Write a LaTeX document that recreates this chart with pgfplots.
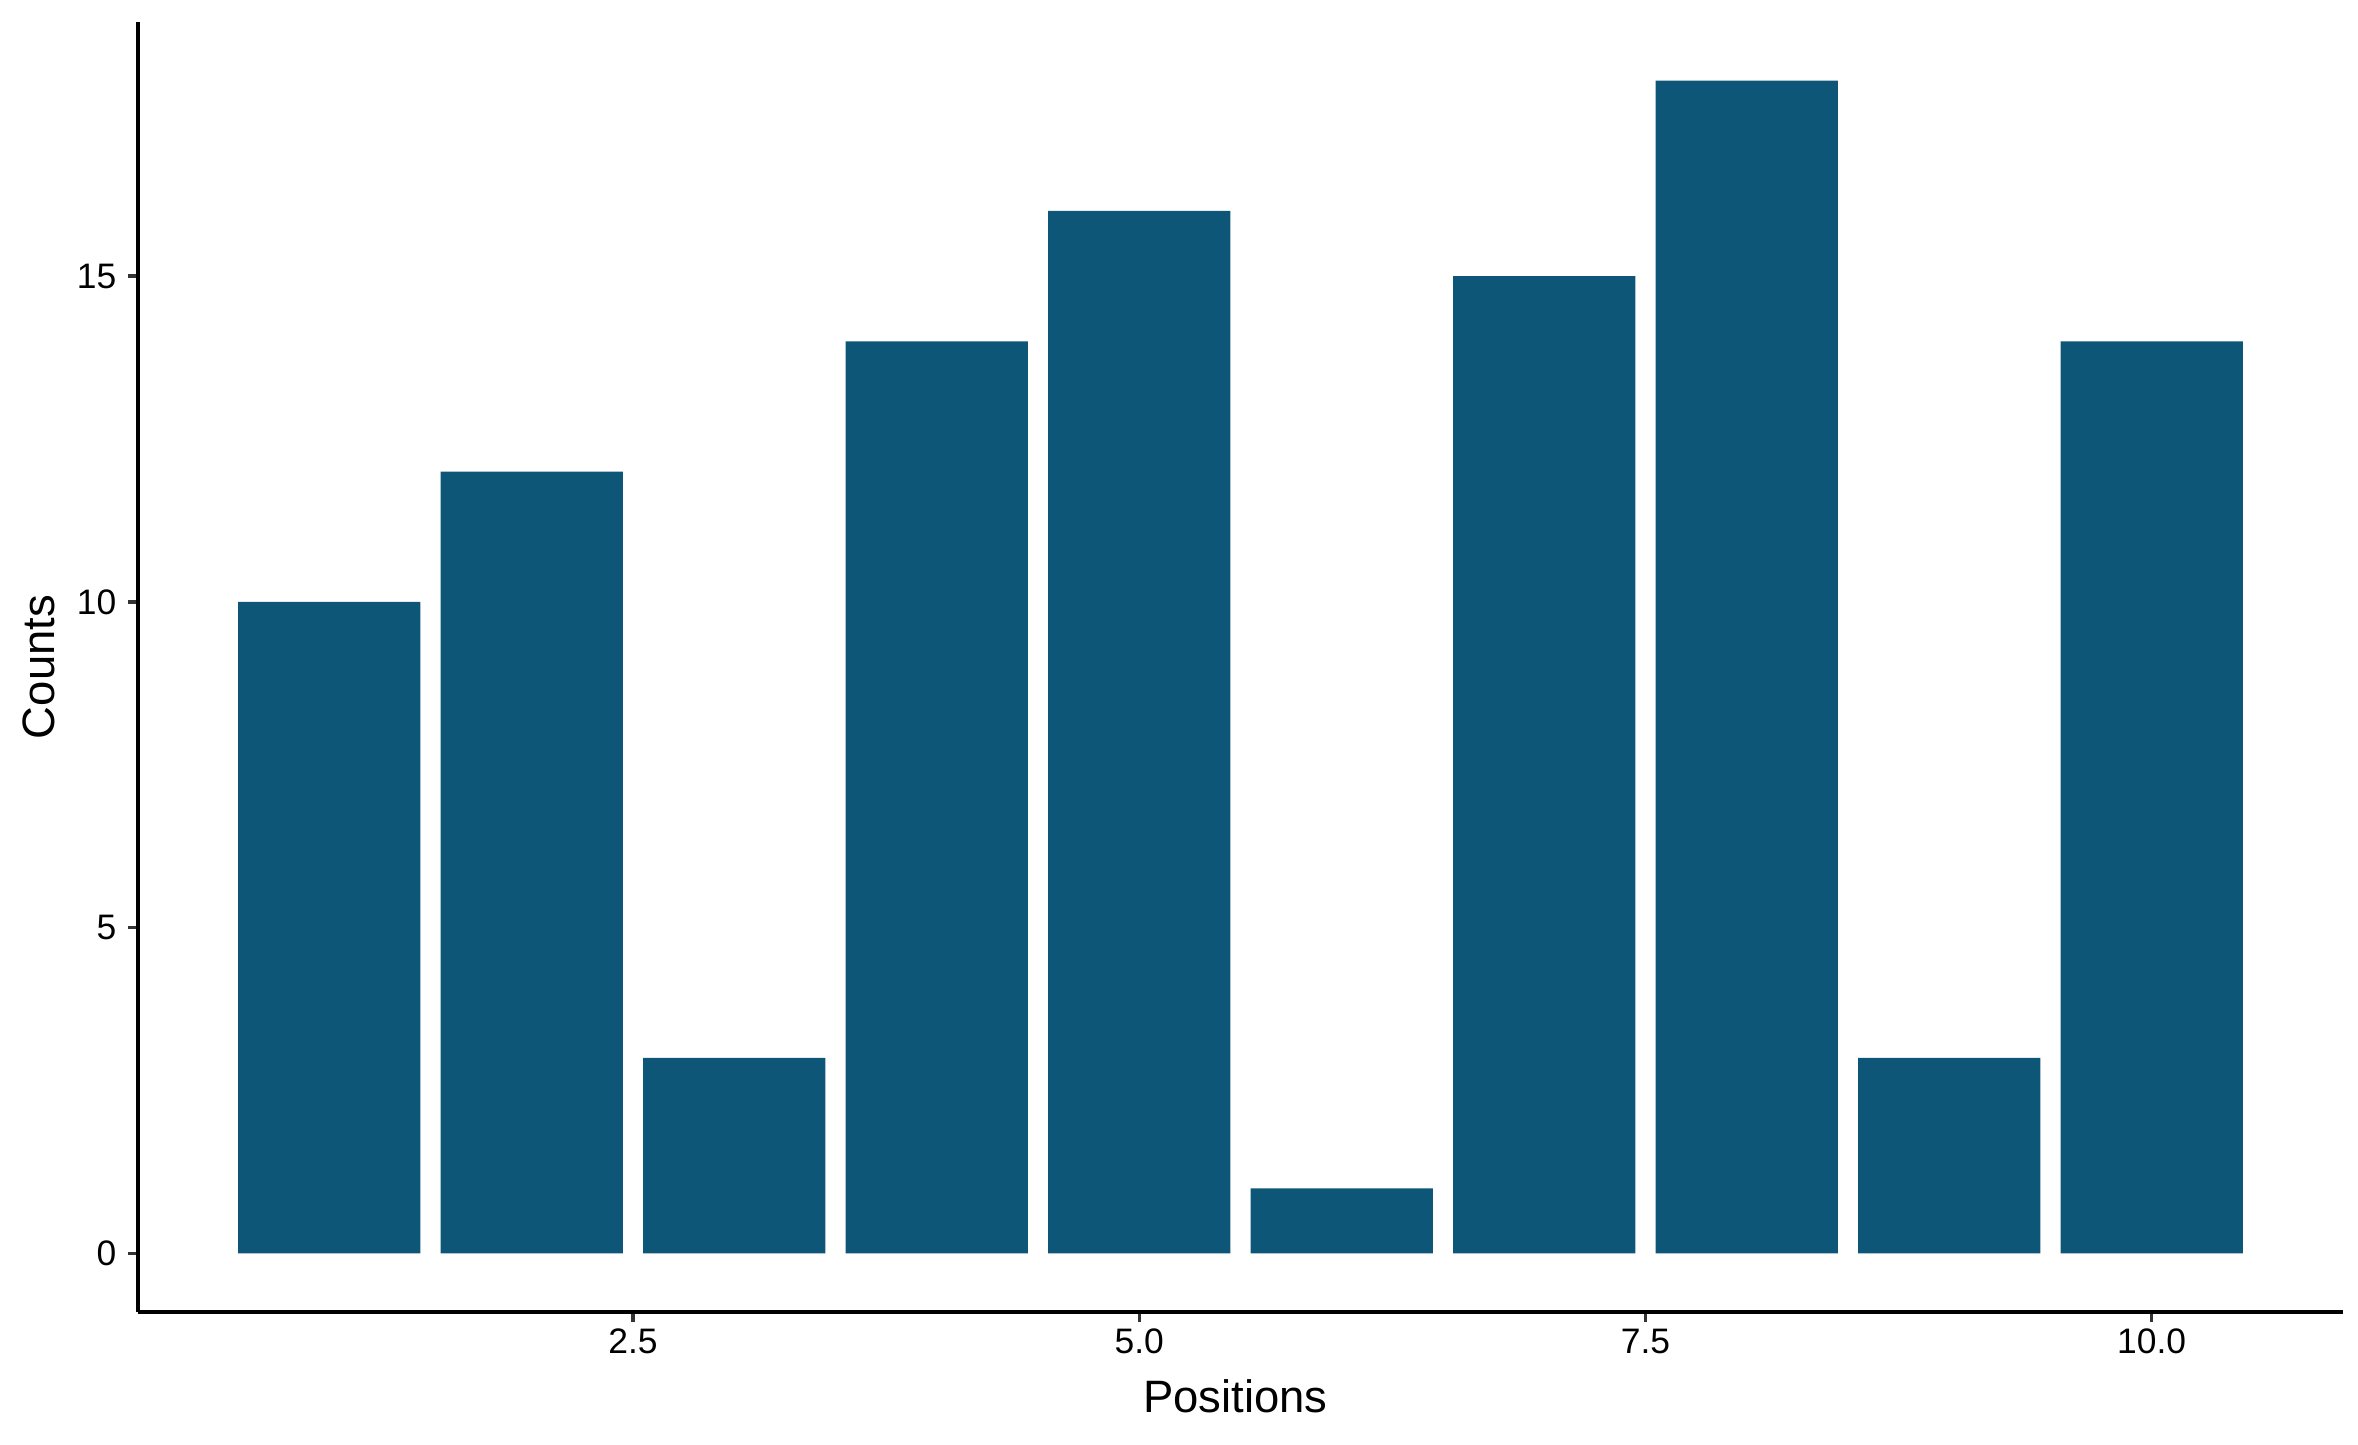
\documentclass[border=0pt]{standalone}
\usepackage{fontspec}
\setmainfont{Liberation Sans}
\usepackage{pgfplots}
\pgfplotsset{compat=1.18}
\definecolor{barcol}{RGB}{14,86,119}
\begin{document}
\begin{tikzpicture}
\begin{axis}[
 name=ax,
 scale only axis,
 width=529.2pt, height=309.6pt,
 xmin=0.055, xmax=10.945, ymin=-0.9, ymax=18.9,
 axis x line=bottom, axis y line=left,
 axis line style={-, line width=0.96pt, black},
 xtick={2.5,5,7.5,10}, xticklabels={2.5,5.0,7.5,10.0},
 ytick={0,5,10,15},
 tick align=outside, major tick length=2.4pt,
 tick style={line width=0.8pt, color=black!80},
 ticklabel style={font=\fontsize{8.5}{10.2}\selectfont, inner sep=0pt},
 xticklabel style={yshift=-1.4pt},
 yticklabel style={xshift=-2.6pt},
 /pgf/number format/assume math mode=true,
 xlabel={Positions}, ylabel={Counts},
 label style={font=\fontsize{10.9}{13}\selectfont},
 xlabel style={at={(axis description cs:0.5,0)}, anchor=base, yshift=-24pt, xshift=-1.2pt},
 ylabel style={at={([xshift=-19.9pt]axis description cs:0,0.5)}, anchor=base},
 ybar, bar width=0.9,
 clip=false,
]
\addplot[fill=barcol, draw=none] coordinates {(1,10)(2,12)(3,3)(4,14)(5,16)(6,1)(7,15)(8,18)(9,3)(10,14)};
\end{axis}
\pgfresetboundingbox
\path[use as bounding box] ([shift={(-33.1pt,-31.7pt)}]ax.south west) rectangle ([shift={(3.6pt,5.3pt)}]ax.north east);
\end{tikzpicture}
\end{document}
